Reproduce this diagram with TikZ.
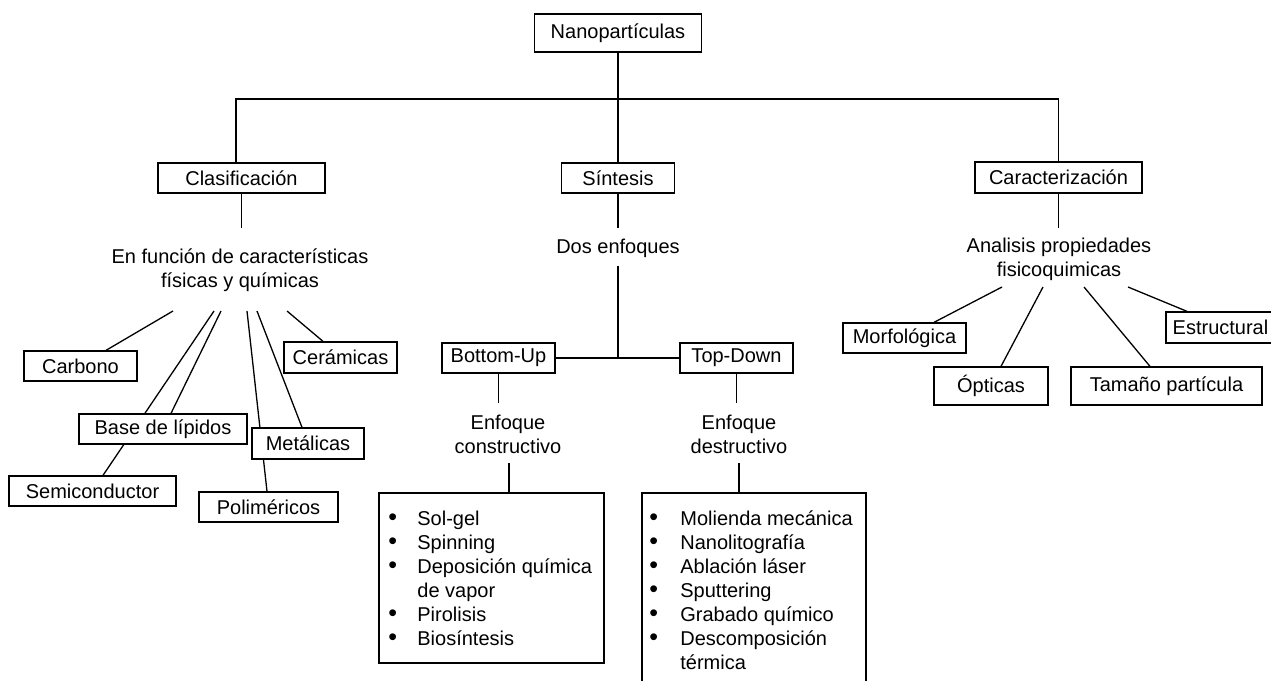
\documentclass[tikz,border=0pt]{standalone}
\usepackage{fontspec}
\usepackage{graphicx}
\setmainfont{Liberation Sans}
\usetikzlibrary{backgrounds}
\newcommand{\bul}[1]{\makebox[#1][l]{\scalebox{1.25}{\textbullet}}}
\begin{document}
\begin{tikzpicture}[x=0.5pt,y=-0.5pt,
  every node/.style={font=\fontsize{10}{12}\selectfont, inner sep=0pt, text=black},
  box/.style={draw, fill=white, line width=0.65pt},
  conn/.style={line width=0.65pt}]
\useasboundingbox (0,0) rectangle (1271,681);
% main boxes
\node[box, minimum width=83.5pt, minimum height=19pt] (nano) at (618,33) {Nanopartículas};
\node[box, minimum width=83.5pt, minimum height=15pt] (clas) at (241.5,178) {Clasificación};
\node[box, minimum width=56.5pt, minimum height=15pt] (sint) at (618,178) {Síntesis};
\node[box, minimum width=83.5pt, minimum height=15.5pt] (carac) at (1058.5,177.5) {Caracterización};
% texts
\node[align=center] (fun) at (240,270) {En función de características\\físicas y químicas};
\node (dos) at (618,248) {Dos enfoques};
\node[align=center] (anal) at (1059,259) {Analisis propiedades\\fisicoquimicas};
\node[align=center] (econ) at (508,434) {Enfoque\\constructivo};
\node[align=center] (edes) at (739,434) {Enfoque\\destructivo};
% classification boxes
\node[box, minimum width=56.5pt, minimum height=15pt] (carb) at (80.5,366) {Carbono};
\node[box, minimum width=56.5pt, minimum height=15.5pt] (ceram) at (340.5,357.5) {Cerámicas};
\node[box, minimum width=84pt, minimum height=15pt] (base) at (163,429) {Base de lípidos};
\node[box, minimum width=56pt, minimum height=15.5pt] (metal) at (308,443.5) {Metálicas};
\node[box, minimum width=83.5pt, minimum height=15pt] (semi) at (92.5,491) {Semiconductor};
\node[box, minimum width=69.5pt, minimum height=15pt] (polim) at (268.5,507) {Poliméricos};
% synthesis boxes
\node[box, minimum width=56.5pt, minimum height=15pt] (bu) at (498.5,358) {Bottom-Up};
\node[box, minimum width=56.5pt, minimum height=15pt] (td) at (736.5,358) {Top-Down};
% characterization boxes
\node[box, minimum width=61.5pt, minimum height=15pt] (morf) at (904.5,338) {Morfológica};
\node[box, minimum width=57pt, minimum height=19pt] (opt) at (991,386) {Ópticas};
\node[box, minimum width=95.5pt, minimum height=19pt] (tam) at (1166.5,386) {Tamaño partícula};
\node[box, minimum width=54.5pt, minimum height=15.5pt] (estr) at (1220.5,327.5) {Estructural};
% list boxes
\node[box, minimum width=112.5pt, minimum height=85pt] (bl) at (491.5,578) {};
\node[anchor=north west] (lbl) at (388,508) {\begin{tabular}{@{}l@{}l@{}}
\bul{14.5pt} & Sol-gel\\
\bul{14.5pt} & Spinning\\
\bul{14.5pt} & Deposición química\\
 & de vapor\\
\bul{14.5pt} & Pirolisis\\
\bul{14.5pt} & Biosíntesis
\end{tabular}};
\coordinate (brBL) at (642,681);
\coordinate (brTL) at (642,493);
\coordinate (brTR) at (866,493);
\coordinate (brBR) at (866,681);
\coordinate (brTop) at (739,493);
\draw[conn] (brBL) -- (brTL) -- (brTR) -- (brBR);
\node[anchor=north west] (lbr) at (649,508) {\begin{tabular}{@{}l@{}l@{}}
\bul{15.5pt} & Molienda mecánica\\
\bul{15.5pt} & Nanolitografía\\
\bul{15.5pt} & Ablación láser\\
\bul{15.5pt} & Sputtering\\
\bul{15.5pt} & Grabado químico\\
\bul{15.5pt} & Descomposición\\
 & térmica
\end{tabular}};
% coordinates
\coordinate (bar) at (618,99);
\coordinate (funTop) at (241.5,228);
\coordinate (dosTop) at (618,228);
\coordinate (dosBot) at (618,266);
\coordinate (junc) at (618,358);
\coordinate (analTop) at (1058.5,228);
\coordinate (econTop) at (498.5,403);
\coordinate (econBot) at (509,463);
\coordinate (edesTop) at (736.5,403);
\coordinate (edesBot) at (739,463);
\coordinate (f1) at (173,311);
\coordinate (f2) at (214,311);
\coordinate (f3) at (221,311);
\coordinate (f4) at (247,311);
\coordinate (f5) at (257,311);
\coordinate (f6) at (287,311);
\coordinate (a1) at (1002,287);
\coordinate (a2) at (1043,287);
\coordinate (a3) at (1084,287);
\coordinate (a4) at (1128,287);
\begin{scope}[on background layer]
\draw[conn] (nano.south) -- (sint.north);
\draw[conn] ([xshift=-2.75pt]clas.north) |- (bar) -| (carac.north);
\draw[conn] (clas.south) -- (funTop);
\draw[conn] (sint.south) -- (dosTop);
\draw[conn] (dosBot) -- (junc);
\draw[conn] (bu.east) -- (td.west);
\draw[conn] (carac.south) -- (analTop);
\draw[conn] (bu.south) -- (econTop);
\draw[conn] (econBot) -- (econBot |- bl.north);
\draw[conn] (td.south) -- (edesTop);
\draw[conn] (edesBot) -- (brTop);
\draw[conn] (f1) -- ([xshift=12.75pt]carb.north);
\draw[conn] (f2) -- ([xshift=5.25pt]semi.north);
\draw[conn] (f3) -- ([xshift=4pt]base.north);
\draw[conn] (f4) -- ([xshift=-0.75pt]polim.north);
\draw[conn] (f5) -- ([xshift=-3pt]metal.north);
\draw[conn] (f6) -- ([xshift=-8.75pt]ceram.north);
\draw[conn] (a1) -- ([xshift=14.75pt]morf.north);
\draw[conn] (a2) -- ([xshift=5pt]opt.north);
\draw[conn] (a3) -- ([xshift=-8.25pt]tam.north);
\draw[conn] (a4) -- ([xshift=-16.75pt]estr.north);
\end{scope}
\end{tikzpicture}
\end{document}
